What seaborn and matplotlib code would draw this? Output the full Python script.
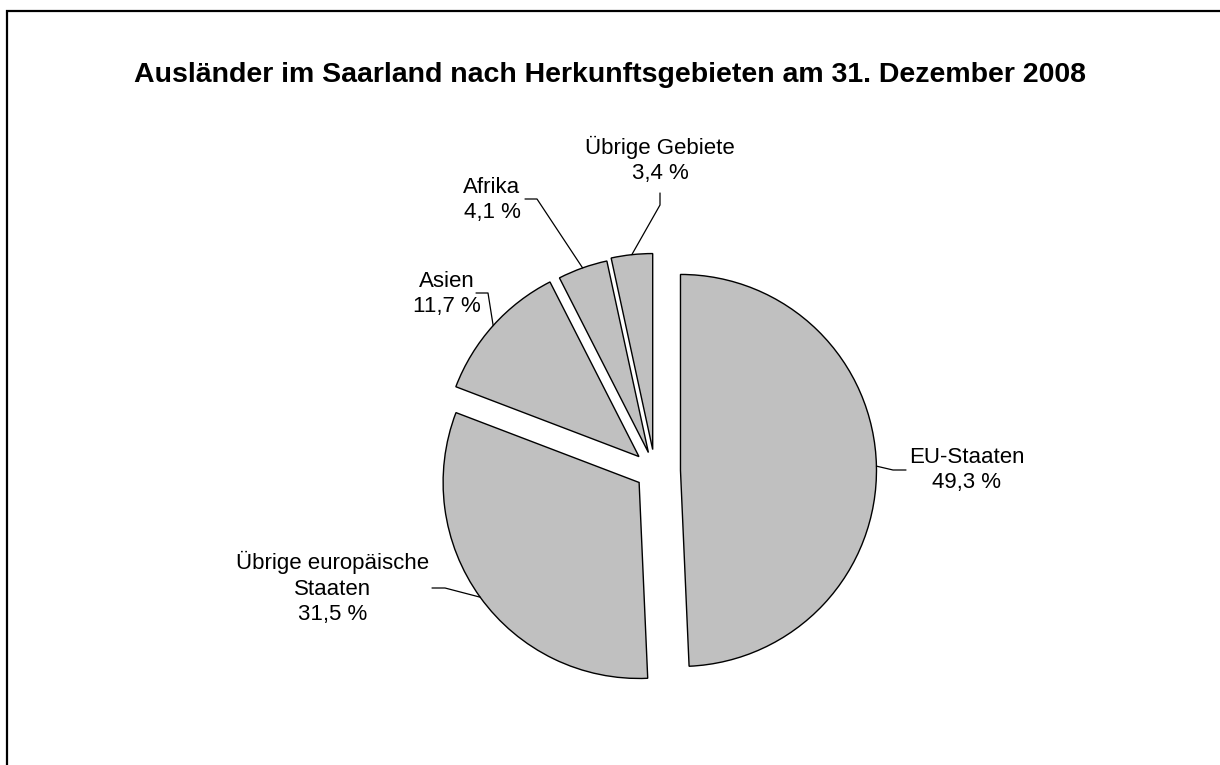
import numpy as np
import matplotlib
matplotlib.use("Agg")
import matplotlib.pyplot as plt
import matplotlib.patches as mpatches
import seaborn as sns

# Daten: Ausländer im Saarland nach Herkunftsgebieten, 31.12.2008 (Anteile in %)
regions = ["EU-Staaten", "Übrige europäische\nStaaten", "Asien", "Afrika", "Übrige Gebiete"]
shares = [49.3, 31.5, 11.7, 4.1, 3.4]
share_labels = ["49,3 %", "31,5 %", "11,7 %", "4,1 %", "3,4 %"]
explode = [0.13, 0.10, 0.11, 0.10, 0.11]

sns.set_theme(style="white")
plt.rcParams['font.family'] = ['Liberation Sans', 'DejaVu Sans']

W, H = 1220, 765
R_PX = 196.0           # pie radius in pixels
CX, CY = 655.0, 471.0  # pie centre in pixels (from top-left)

fig = plt.figure(figsize=(W / 100, H / 100), dpi=100)
ax = fig.add_axes([0, 0, 1, 1])

wedges, _ = ax.pie(shares, explode=explode, startangle=90, counterclock=False,
                   colors=["#c0c0c0"] * len(shares),
                   wedgeprops=dict(edgecolor="black", linewidth=1.0))
ax.set_xlim(-CX / R_PX, (W - CX) / R_PX)
ax.set_ylim(-(H - CY) / R_PX, CY / R_PX)
ax.set_aspect("auto")
ax.axis("off")


def px(x, y):
    # pixel position (top-left origin) -> data coords
    return (x - CX) / R_PX, (CY - y) / R_PX


# label layout: text centre, elbow point, line end at text (all in pixels)
label_layout = [
    dict(text=(967, 470), elbow=(893, 470), end=(906, 470)),
    dict(text=(333, 588), elbow=(445, 588), end=(432, 588)),
    dict(text=(447, 294), elbow=(488, 293), end=(476, 293)),
    dict(text=(492, 200), elbow=(537, 199), end=(525, 199)),
    dict(text=(660, 160), elbow=(660, 205), end=(660, 193)),
]

for w, name, lab, lay in zip(wedges, regions, share_labels, label_layout):
    mid = np.deg2rad((w.theta1 + w.theta2) / 2)
    cx, cy = w.center
    anchor = (cx + w.r * np.cos(mid), cy + w.r * np.sin(mid))
    ex, ey = px(*lay["elbow"])
    nx, ny = px(*lay["end"])
    ax.plot([anchor[0], ex, nx], [anchor[1], ey, ny], color="black", lw=0.9)
    tx, ty = px(*lay["text"])
    ax.text(tx, ty, f"{name}\n{lab}", ha="center", va="center",
            fontsize=16, color="black", linespacing=1.3)

fig.text(610 / W, 1 - 75 / H, "Ausländer im Saarland nach Herkunftsgebieten am 31. Dezember 2008",
         ha="center", va="center", fontsize=20.5, fontweight="bold", color="black")

# Rahmen
frame = mpatches.Rectangle((7 / W, -0.05), 1.1, 1 - 11 / H + 0.05, transform=fig.transFigure,
                           fill=False, edgecolor="black", linewidth=1.6, clip_on=False)
fig.patches.append(frame)

fig.savefig("out.png", dpi=100, facecolor="white")
